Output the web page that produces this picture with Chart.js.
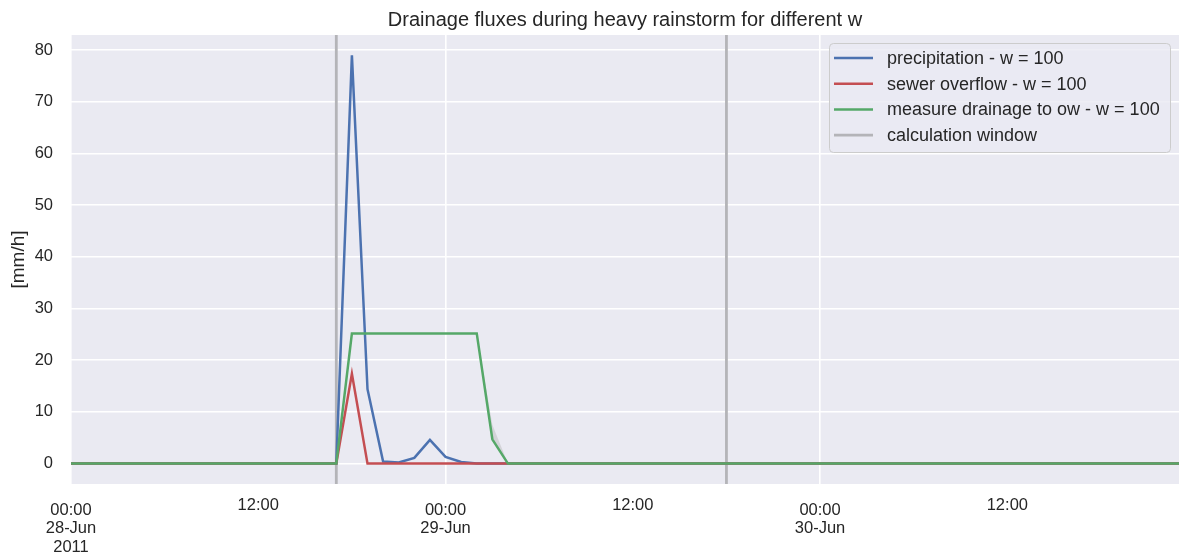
<!DOCTYPE html>
<html>
<head>
<meta charset="utf-8">
<script src="https://cdn.jsdelivr.net/npm/chart.js@4.4.1/dist/chart.umd.min.js"></script>
<style>
  body { margin: 0; background: #fff; }
  canvas { display: block; }
</style>
</head>
<body>
<canvas id="fluxChart" width="1179" height="559"></canvas>
<script>
// hours since 28-Jun-2011 00:00
const hours = Array.from({ length: 72 }, (_, i) => i);

const precipitation = [
  0, 0, 0, 0, 0, 0, 0, 0, 0, 0, 0, 0,
  0, 0, 0, 0, 0, 0, 79, 14.4, 0.4, 0.2, 1.1, 4.6,
  1.3, 0.3, 0, 0, 0, 0, 0, 0, 0, 0, 0, 0,
  0, 0, 0, 0, 0, 0, 0, 0, 0, 0, 0, 0,
  0, 0, 0, 0, 0, 0, 0, 0, 0, 0, 0, 0,
  0, 0, 0, 0, 0, 0, 0, 0, 0, 0, 0, 0
];
const sewerOverflow = [
  0, 0, 0, 0, 0, 0, 0, 0, 0, 0, 0, 0,
  0, 0, 0, 0, 0, 0, 17.4, 0, 0, 0, 0, 0,
  0, 0, 0, 0, 0, 0, 0, 0, 0, 0, 0, 0,
  0, 0, 0, 0, 0, 0, 0, 0, 0, 0, 0, 0,
  0, 0, 0, 0, 0, 0, 0, 0, 0, 0, 0, 0,
  0, 0, 0, 0, 0, 0, 0, 0, 0, 0, 0, 0
];
const measureDrainage = [
  0, 0, 0, 0, 0, 0, 0, 0, 0, 0, 0, 0,
  0, 0, 0, 0, 0, 0, 25.2, 25.2, 25.2, 25.2, 25.2, 25.2,
  25.2, 25.2, 25.2, 4.7, 0, 0, 0, 0, 0, 0, 0, 0,
  0, 0, 0, 0, 0, 0, 0, 0, 0, 0, 0, 0,
  0, 0, 0, 0, 0, 0, 0, 0, 0, 0, 0, 0,
  0, 0, 0, 0, 0, 0, 0, 0, 0, 0, 0, 0
];
// spread over w values (upper edge), hours 26..28
const bandHours = [26, 27, 28];
const bandUpper = [25.2, 7.5, 0];

const calcWindow = [17, 42];

const dayTicks = [0, 24, 48];
const dayTickLabels = [['00:00', '28-Jun', '2011'], ['00:00', '29-Jun'], ['00:00', '30-Jun']];
const noonTicks = [12, 36, 60];
const noonTickLabels = ['12:00', '12:00', '12:00'];
const yTicks = [0, 10, 20, 30, 40, 50, 60, 70, 80];

const seriesLabels = ['precipitation - w = 100', 'sewer overflow - w = 100', 'measure drainage to ow - w = 100', 'calculation window'];
const seriesColors = ['#4c72b0', '#c44e52', '#55a868', '#b4b4b8'];

const yMin = -3.95, yMax = 82.95;
const FONT = '"Liberation Sans", Arial, sans-serif';
const TXT = '#262626';

const windowPoints = [];
calcWindow.forEach((h, i) => {
  if (i > 0) windowPoints.push({ x: h, y: null });
  windowPoints.push({ x: h, y: yMin }, { x: h, y: yMax });
});

const bgPlugin = {
  id: 'plotBg',
  beforeDraw(chart) {
    const { ctx, chartArea: a } = chart;
    ctx.save();
    ctx.fillStyle = '#eaeaf2';
    ctx.fillRect(a.left, a.top, a.right - a.left, a.bottom - a.top);
    ctx.restore();
  }
};

const decorPlugin = {
  id: 'decor',
  afterDraw(chart) {
    const { ctx, chartArea: a } = chart;
    ctx.save();
    // title
    ctx.fillStyle = TXT;
    ctx.font = '20px ' + FONT;
    ctx.textAlign = 'center';
    ctx.textBaseline = 'middle';
    ctx.fillText('Drainage fluxes during heavy rainstorm for different w', (a.left + a.right) / 2, 20);

    // minor 12:00 tick labels (sit a little higher than the day labels)
    ctx.font = '16.5px ' + FONT;
    const xs = chart.scales.x;
    noonTicks.forEach((v, i) => {
      ctx.fillText(noonTickLabels[i], xs.getPixelForValue(v), a.bottom + 21);
    });

    // legend
    const bx = 829.5, by = 43.5, bw = 341, bh = 109, r = 4;
    ctx.beginPath();
    ctx.moveTo(bx + r, by);
    ctx.arcTo(bx + bw, by, bx + bw, by + bh, r);
    ctx.arcTo(bx + bw, by + bh, bx, by + bh, r);
    ctx.arcTo(bx, by + bh, bx, by, r);
    ctx.arcTo(bx, by, bx + bw, by, r);
    ctx.closePath();
    ctx.fillStyle = 'rgba(234,234,242,0.8)';
    ctx.fill();
    ctx.strokeStyle = '#cccccc';
    ctx.lineWidth = 1;
    ctx.stroke();

    ctx.font = '18px ' + FONT;
    ctx.textAlign = 'left';
    seriesLabels.forEach((lbl, i) => {
      const y = 58 + i * 25.7;
      ctx.strokeStyle = seriesColors[i];
      ctx.lineWidth = i === 3 ? 2.8 : 2.5;
      ctx.beginPath();
      ctx.moveTo(834, y);
      ctx.lineTo(873, y);
      ctx.stroke();
      ctx.fillStyle = TXT;
      ctx.fillText(lbl, 887, y + 1);
    });
    ctx.restore();
  }
};

new Chart(document.getElementById('fluxChart'), {
  type: 'line',
  data: {
    labels: hours,
    datasets: [
      { label: seriesLabels[2], data: measureDrainage, borderColor: seriesColors[2], borderWidth: 2.5, order: 1 },
      { label: seriesLabels[1], data: sewerOverflow, borderColor: seriesColors[1], borderWidth: 2.5, order: 2 },
      { label: seriesLabels[0], data: precipitation, borderColor: seriesColors[0], borderWidth: 2.5, order: 3 },
      {
        label: 'spread',
        data: bandHours.map((h, i) => ({ x: h, y: bandUpper[i] })),
        borderWidth: 0, borderColor: 'rgba(0,0,0,0)',
        backgroundColor: 'rgba(170,170,170,0.35)',
        fill: { target: 0 }, order: 4
      },
      { label: seriesLabels[3], data: windowPoints, borderColor: seriesColors[3], borderWidth: 2.8, order: 5 }
    ]
  },
  options: {
    responsive: false,
    animation: false,
    events: [],
    elements: {
      point: { radius: 0 },
      line: { tension: 0, borderCapStyle: 'butt' }
    },
    layout: { padding: { top: 35, left: 0, right: 0, bottom: 0 } },
    plugins: {
      legend: { display: false },
      title: { display: false },
      tooltip: { enabled: false }
    },
    scales: {
      x: {
        type: 'linear',
        min: 0,
        max: 71,
        afterBuildTicks: (s) => { s.ticks = dayTicks.map(v => ({ value: v })); },
        afterFit: (s) => { s.height = 75; },
        ticks: {
          autoSkip: false,
          maxRotation: 0,
          padding: 17,
          color: TXT,
          font: { family: FONT, size: 16.5, lineHeight: 1.12 },
          callback: (v) => dayTickLabels[dayTicks.indexOf(v)]
        },
        grid: { drawTicks: false, lineWidth: 1.6, color: '#ffffff' },
        border: { display: false }
      },
      y: {
        min: yMin,
        max: yMax,
        afterBuildTicks: (s) => { s.ticks = yTicks.map(v => ({ value: v })); },
        afterFit: (s) => { s.width = 71; },
        title: {
          display: true,
          text: '[mm/h]',
          color: TXT,
          font: { family: FONT, size: 19 },
          padding: { top: 7, bottom: 0 }
        },
        ticks: {
          padding: 18,
          color: TXT,
          font: { family: FONT, size: 16.5 }
        },
        grid: { drawTicks: false, lineWidth: 1.6, color: '#ffffff' },
        border: { display: false }
      }
    }
  },
  plugins: [bgPlugin, decorPlugin]
});
</script>
</body>
</html>
